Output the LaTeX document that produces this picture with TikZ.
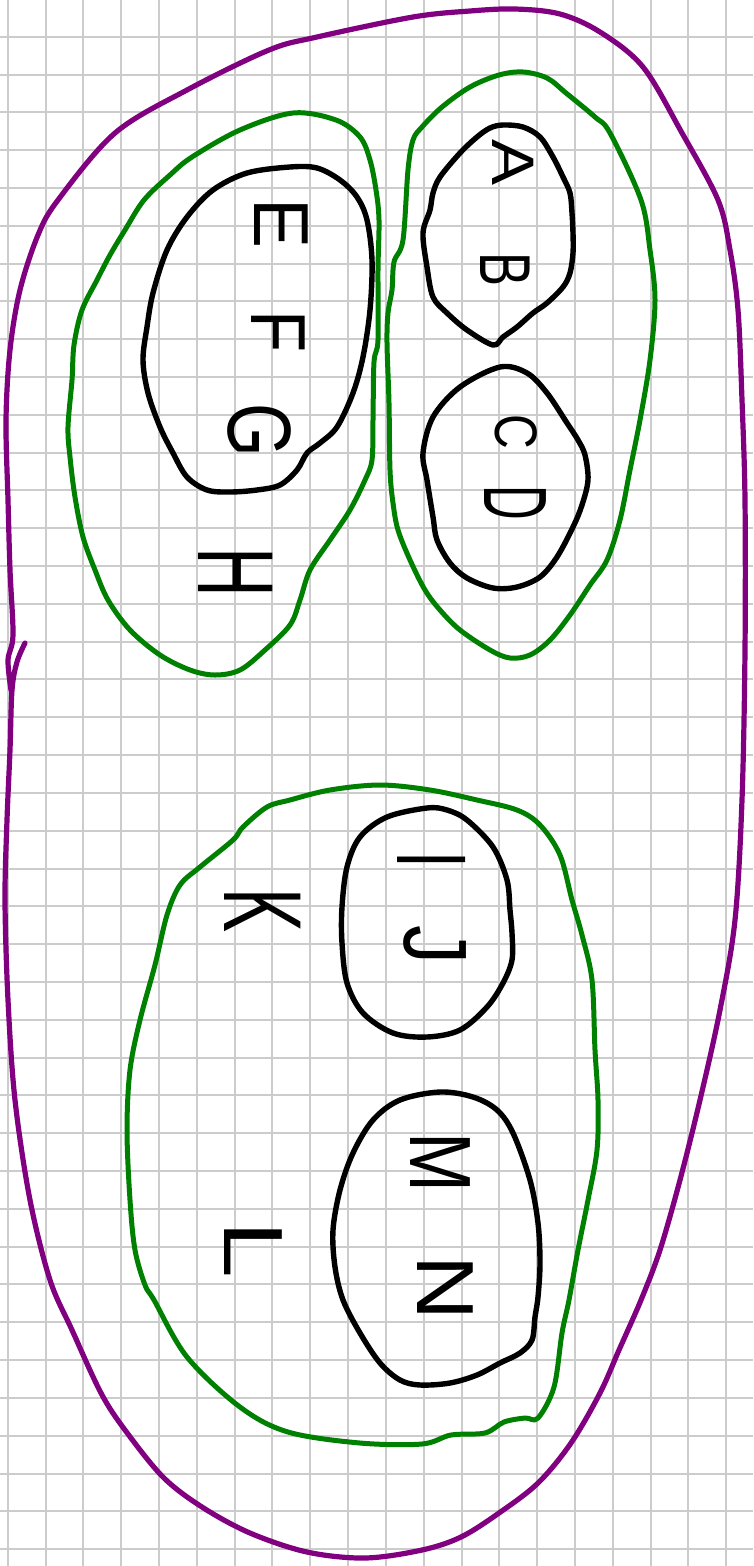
\documentclass[tikz,border=0pt]{standalone}
\usepackage{fontspec}
\newfontfamily\handfont{Liberation Sans}
\definecolor{gridgray}{RGB}{204,204,204}
\definecolor{setpurple}{RGB}{128,0,128}
\definecolor{setgreen}{RGB}{0,128,0}
\tikzset{
  gridline/.style={draw=gridgray, line width=2pt},
  purpleset/.style={draw=setpurple, line width=5.2pt, line cap=round, line join=round},
  greenset/.style={draw=setgreen, line width=5pt, line cap=round, line join=round},
  blackset/.style={draw=black, line width=5.4pt, line cap=round, line join=round},
  lt/.style={rotate=-90, inner sep=0pt, font=\handfont\fontsize{60}{60}\selectfont, text=black}
}
\begin{document}
\begin{tikzpicture}[x=1pt,y=-1pt]
\useasboundingbox (0,0) rectangle (753,1566);
\fill[white] (0,0) rectangle (753,1566);
% grid
\foreach \k in {0,...,19} {
  \draw[gridline] ({7.7+37.82*\k},0) -- ({7.7+37.82*\k},1566);
}
\foreach \k in {1,...,41} {
  \draw[gridline] (0,{-1.1+37.81*\k}) -- (753,{-1.1+37.81*\k});
}
% outer purple set
\draw[purpleset] plot[smooth, tension=0.55] coordinates {
 (25,643) (17,662) (12,690) (10,750) (7,820) (5,900) (8,1000) (15,1100) (30,1200) (50,1280)
 (72,1330) (101,1393) (125,1430) (163,1477) (202,1507) (250,1533) (307,1552) (365,1558)
 (422,1550) (461,1537) (499,1513) (538,1483) (571,1443) (600,1393) (619,1350) (641,1300)
 (660,1250) (680,1180) (700,1100) (720,1010) (735,920) (742,800) (745,650) (745,500)
 (742,400) (738,310) (730,250) (718,200) (682,133) (643,67) (600,32) (560,14) (515,9)
 (470,11) (413,17) (317,37) (269,50) (187,90) (115,133) (58,200) (38,235) (20,290) (10,350)
 (6,420) (8,500) (10,570) (13,635) (8,660) (11,690)};
% green set EFGH
\draw[greenset] plot[smooth cycle, tension=0.55] coordinates {
 (75,497) (70,457) (68,427) (72,380) (74,345) (82,310) (97,280) (110,255) (125,230)
 (144,200) (170,175) (192,157) (240,130) (293,113) (336,120) (360,137) (370,160)
 (376,190) (379,220) (378,270) (378,340) (374,362) (373,420) (372,460) (365,480)
 (350,510) (330,540) (310,570) (300,600) (290,625) (265,650) (240,670) (215,675)
 (190,670) (160,655) (130,630) (108,600) (95,570) (83,537)};
% green set ABCD
\draw[greenset] plot[smooth cycle, tension=0.55] coordinates {
 (392,290) (388,313) (387,343) (389,403) (390,470) (393,503) (398,530) (410,560)
 (425,590) (440,610) (460,630) (490,650) (510,658) (530,655) (550,640) (570,615)
 (590,585) (607,560) (620,520) (630,470) (640,420) (650,360) (655,300) (650,250)
 (641,200) (610,133) (595,117) (566,93) (547,78) (523,72) (499,75) (470,87)
 (442,107) (422,127) (413,140) (408,170) (403,240) (394,262)};
% green set IJKLMN
\draw[greenset] plot[smooth cycle, tension=0.55] coordinates {
 (538,1418) (554,1387) (562,1333) (569,1300) (578,1250) (588,1200) (597,1150)
 (598,1100) (595,1050) (592,980) (582,935) (572,900) (560,855) (540,825) (517,810)
 (477,800) (430,790) (380,785) (330,790) (290,800) (267,807) (243,827) (233,840)
 (200,867) (180,885) (167,915) (155,965) (140,1020) (130,1070) (127,1130) (130,1200)
 (135,1250) (145,1285) (154,1300) (187,1357) (240,1407) (288,1432) (360,1443)
 (422,1444) (451,1435) (485,1433) (504,1422) (525,1418)};
% black set AB
\draw[blackset] plot[smooth cycle, tension=0.55] coordinates {
 (493,345) (467,330) (447,313) (433,297) (427,267) (423,233) (430,210) (433,193)
 (440,177) (460,153) (477,137) (490,128) (503,125) (523,127) (540,137) (553,157)
 (563,177) (570,193) (572,213) (573,233) (573,253) (570,273) (563,287) (547,303)
 (533,313) (517,327) (503,337)};
% black set CD
\draw[blackset] plot[smooth cycle, tension=0.55] coordinates {
 (500,367) (460,387) (433,417) (423,453) (427,480) (433,517) (437,540) (450,563)
 (467,578) (493,588) (517,587) (540,577) (557,557) (573,527) (582,505) (588,480)
 (585,455) (578,440) (567,423) (547,393) (527,373)};
% black set EFG
\draw[blackset] plot[smooth cycle, tension=0.55] coordinates {
 (290,167) (247,173) (213,190) (187,217) (167,250) (153,293) (147,327) (143,360)
 (148,393) (160,427) (173,453) (187,477) (207,490) (230,492) (257,490) (280,485)
 (297,470) (307,453) (320,443) (337,427) (353,393) (363,357) (370,310) (372,260)
 (367,220) (357,197) (340,180) (317,168)};
% black set IJ
\draw[blackset] plot[smooth cycle, tension=0.55] coordinates {
 (427,808) (387,817) (360,837) (347,867) (342,907) (342,943) (347,983) (363,1013)
 (393,1033) (427,1037) (460,1030) (487,1007) (503,983) (512,960) (512,933)
 (510,910) (507,880) (493,847) (467,820) (447,810)};
% black set MN
\draw[blackset] plot[smooth cycle, tension=0.55] coordinates {
 (440,1092) (400,1100) (373,1120) (353,1153) (340,1190) (333,1230) (335,1267)
 (343,1300) (360,1333) (380,1363) (400,1380) (420,1385) (450,1383) (477,1375)
 (500,1363) (520,1353) (532,1340) (535,1317) (538,1297) (540,1263) (538,1223)
 (530,1180) (513,1133) (497,1110) (473,1097)};
% letters
\node[lt] (A) at (513,163) {\scalebox{1.15}[1.0]{A}};
\node[lt] (B) at (505,270) {\scalebox{0.85}[1.2]{B}};
\node[lt] (C) at (516,432) {\scalebox{0.8}[1.0]{C}};
\node[lt] (D) at (515,503) {\scalebox{0.8}[1.5]{D}};
\node[lt] (E) at (281,224) {\scalebox{1.25}[1.3]{E}};
\node[lt] (F) at (278,332) {\scalebox{1.15}[1.3]{F}};
\node[lt] (G) at (259,430) {\scalebox{1.15}[1.5]{G}};
\node[lt] (H) at (236,572) {\scalebox{1.15}[1.8]{H}};
\node[lt] (I) at (432,860) {\scalebox{1.0}[1.65]{I}};
\node[lt] (J) at (435,945) {\scalebox{1.3}[1.5]{J}};
\node[lt] (K) at (263,910) {\scalebox{1.1}[1.85]{K}};
\node[lt] (L) at (253,1250) {\scalebox{1.7}[1.4]{L}};
\node[lt] (M) at (440,1162) {\scalebox{1.2}[1.45]{M}};
\node[lt] (N) at (445,1288) {\scalebox{1.5}[1.35]{N}};
\end{tikzpicture}
\end{document}
